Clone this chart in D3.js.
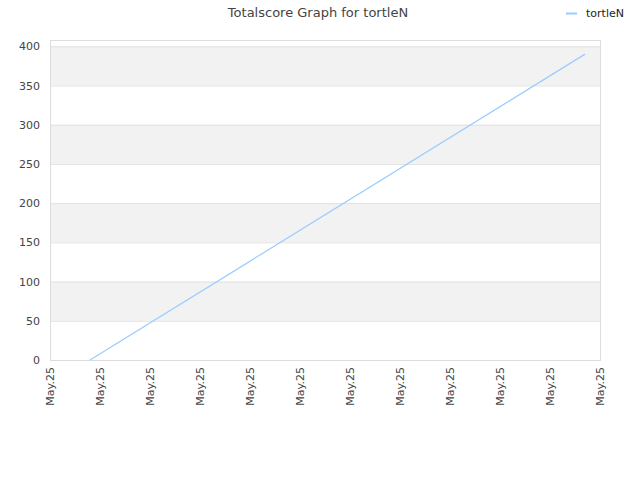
<!DOCTYPE html>
<html>
<head>
<meta charset="utf-8">
<script src="https://cdn.jsdelivr.net/npm/d3@7"></script>
<style>
  body { margin: 0; background: #fff; }
  text { font-family: "DejaVu Sans", Verdana, sans-serif; }
</style>
</head>
<body>
<div class="chart"></div>
<script>
// data
const seriesName = 'tortleN';
const xTickLabels = ['May.25', 'May.25', 'May.25', 'May.25', 'May.25', 'May.25',
                     'May.25', 'May.25', 'May.25', 'May.25', 'May.25', 'May.25'];
const pointX = [0.8, 10.7];
const pointY = [0, 390];
const yTicks = [0, 50, 100, 150, 200, 250, 300, 350, 400];

const draw = (outerWidth, outerHeight) => {
    const margin = {top: 40, right: 40, bottom: 120, left: 50};
    const width = outerWidth - margin.left - margin.right;
    const height = outerHeight - margin.top - margin.bottom;

    const root = d3.select('.chart').append('svg')
        .attr('width', outerWidth)
        .attr('height', outerHeight);

    // title
    root.append('text')
        .attr('x', 318)
        .attr('y', 17)
        .attr('text-anchor', 'middle')
        .attr('font-size', 13)
        .attr('fill', '#444')
        .text('Totalscore Graph for ' + seriesName);

    // legend
    root.append('line')
        .attr('x1', 566).attr('x2', 577)
        .attr('y1', 13.5).attr('y2', 13.5)
        .attr('stroke', '#99ccff')
        .attr('stroke-width', 2);
    root.append('text')
        .attr('x', 586)
        .attr('y', 17)
        .attr('font-size', 11)
        .attr('fill', '#222')
        .text(seriesName);

    const svg = root.append('g')
        .attr('transform', 'translate(' + margin.left + ',' + margin.top + ')');

    const data = pointX.map((_, i) => ({x: pointX[i], y: pointY[i]}));

    let x = d3.scaleLinear()
        .domain([0, xTickLabels.length - 1])
        .range([0, width]);
    let y = d3.scaleLinear()
        .domain([0, 408])
        .range([height, 0]);

    // alternating bands
    const bandEdges = yTicks.concat([408]);
    for (let i = 0; i < bandEdges.length - 1; i++) {
        if (i % 2 === 1) {
            svg.append('rect')
                .attr('x', 0)
                .attr('width', width)
                .attr('y', y(bandEdges[i + 1]))
                .attr('height', y(bandEdges[i]) - y(bandEdges[i + 1]))
                .attr('fill', '#f2f2f2');
        }
    }

    // grid lines
    svg.selectAll('.grid')
        .data(yTicks)
        .enter().append('line')
        .attr('class', 'grid')
        .attr('x1', 0).attr('x2', width)
        .attr('y1', d => y(d) + 0.5).attr('y2', d => y(d) + 0.5)
        .attr('stroke', '#e2e2e2');

    // frame
    svg.append('rect')
        .attr('x', 0.5).attr('y', 0.5)
        .attr('width', width).attr('height', height)
        .attr('fill', 'none')
        .attr('stroke', '#dddddd');

    // the line
    svg.append('path')
        .datum(data)
        .attr('fill', 'none')
        .attr('stroke', '#99ccff')
        .attr('stroke-width', 1.2)
        .attr('d', d3.line().x(d => x(d.x)).y(d => y(d.y)));

    // y axis
    const yAxis = svg.append('g')
        .call(d3.axisLeft(y).tickValues(yTicks).tickSize(0).tickPadding(10));
    yAxis.select('.domain').remove();
    yAxis.selectAll('text').attr('font-size', 11).attr('fill', '#444')
        .attr('font-family', '"DejaVu Sans", Verdana, sans-serif');

    // x axis
    const xAxis = svg.append('g')
        .attr('transform', 'translate(0,' + height + ')')
        .call(d3.axisBottom(x)
            .tickValues(d3.range(xTickLabels.length))
            .tickFormat(i => xTickLabels[i])
            .tickSize(0));
    xAxis.select('.domain').remove();
    xAxis.selectAll('text')
        .attr('font-size', 11).attr('fill', '#444')
        .attr('font-family', '"DejaVu Sans", Verdana, sans-serif')
        .attr('text-anchor', 'end')
        .attr('dy', '0.35em')
        .attr('transform', 'translate(0,7) rotate(-90)')
        .attr('y', 0)
        .attr('x', 0);
};

draw(640, 480);
</script>
</body>
</html>
